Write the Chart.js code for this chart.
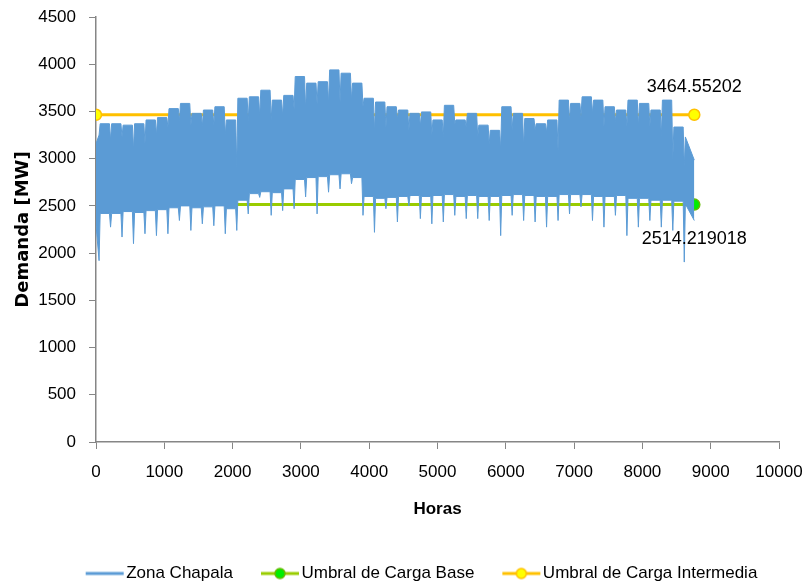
<!DOCTYPE html>
<html>
<head>
<meta charset="utf-8">
<script src="https://cdn.jsdelivr.net/npm/chart.js@4.4.1/dist/chart.umd.min.js"></script>
<style>
  html, body { margin: 0; padding: 0; background: #fff; }
</style>
</head>
<body>
<canvas id="myChart" width="806" height="584"></canvas>
<script>
// Hora del valle de cada semana (fin de semana)
const horasValle = [45, 213, 381, 549, 717, 885, 1053, 1221, 1389, 1557, 1725, 1893, 2061,
  2229, 2397, 2565, 2733, 2901, 3069, 3237, 3405, 3573, 3741, 3909, 4077, 4245, 4413,
  4581, 4749, 4917, 5085, 5253, 5421, 5589, 5757, 5925, 6093, 6261, 6429, 6597, 6765,
  6933, 7101, 7269, 7437, 7605, 7773, 7941, 8109, 8277, 8445, 8613]

// Envolvente superior: pico entre semana y valle de fin de semana [MW]
const picoSemana = [3370, 3370, 3355, 3370, 3410, 3435, 3530, 3585, 3480, 3515, 3550, 3410, 3640,
  3655, 3725, 3620, 3670, 3870, 3800, 3815, 3940, 3905, 3800, 3640, 3600, 3550, 3515,
  3480, 3495, 3410, 3565, 3410, 3480, 3355, 3300, 3550, 3480, 3425, 3370, 3410, 3620,
  3585, 3655, 3620, 3550, 3515, 3620, 3585, 3515, 3620, 3335, 3230]
const picoFinde = [3250, 3195, 3230, 3090, 3160, 3250, 3335, 3400, 3350, 3340, 3350, 3250, 2900,
  3400, 3450, 3410, 3450, 3520, 3520, 3580, 3585, 3600, 3620, 3550, 3285, 3330, 3420,
  3300, 3340, 3250, 3230, 3370, 3330, 3230, 3150, 3090, 3300, 3120, 3300, 3280, 3090,
  3400, 3440, 3480, 3340, 3390, 3340, 3340, 3340, 3230, 2990, 2910]

// Envolvente inferior: minimo entre semana y minimo de fin de semana [MW]
const minSemana = [2420, 2420, 2440, 2430, 2450, 2460, 2480, 2500, 2480, 2490, 2500, 2470, 2560,
  2630, 2650, 2640, 2680, 2780, 2800, 2810, 2830, 2840, 2800, 2600, 2580, 2590, 2600,
  2610, 2600, 2610, 2620, 2600, 2610, 2600, 2600, 2610, 2620, 2610, 2600, 2600, 2620,
  2620, 2620, 2600, 2600, 2610, 2580, 2580, 2560, 2560, 2550, 2520]
const minFinde = [1920, 2275, 2170, 2100, 2205, 2185, 2205, 2345, 2240, 2310, 2290, 2205, 2240,
  2415, 2590, 2400, 2450, 2470, 2595, 2415, 2645, 2680, 2735, 2400, 2220, 2470, 2330,
  2500, 2365, 2310, 2330, 2400, 2365, 2365, 2345, 2185, 2400, 2345, 2330, 2275, 2345,
  2415, 2490, 2345, 2275, 2400, 2185, 2275, 2345, 2275, 2240, 1905]

// primer y ultimo punto del año
const horasExtremos = [0, 8760]
const supExtremos = [3160, 2985]
const infExtremos = [2300, 2345]

const umbralBase = [2514.219018, 2514.219018]
const umbralIntermedia = [3464.55202, 3464.55202]

const leyenda = ["Zona Chapala", "Umbral de Carga Base", "Umbral de Carga Intermedia"]

const AZUL = "#5B9BD5"
const VERDE = "#99CC00"
const AMARILLO = "#FFC000"
const FUENTE = "'Liberation Sans', Arial, sans-serif"

function envolvente(semana, finde, extremos) {
  let pts = [{ x: horasExtremos[0], y: extremos[0] }]
  horasValle.forEach((h, i) => {
    if (i > 0) pts.push({ x: h - 16, y: semana[i - 1] })
    pts.push({ x: h, y: finde[i] })
    pts.push({ x: h + 16, y: semana[i] })
  })
  pts.push({ x: horasExtremos[1], y: extremos[1] })
  return pts
}

function recta(valores) {
  return horasExtremos.map((h, i) => ({ x: h, y: valores[i] }))
}

// iconos de la leyenda: linea con o sin marcador
function icono(linea, relleno, borde) {
  const c = document.createElement("canvas")
  c.width = 72
  c.height = 14
  const g = c.getContext("2d")
  g.strokeStyle = linea
  g.lineWidth = 3
  g.beginPath()
  g.moveTo(33, 7)
  g.lineTo(71, 7)
  g.stroke()
  if (relleno) {
    g.fillStyle = relleno
    g.strokeStyle = borde
    g.lineWidth = 1.5
    g.beginPath()
    g.arc(52, 7, 5, 0, Math.PI * 2)
    g.fill()
    g.stroke()
  }
  return c
}
const iconos = [icono(AZUL), icono(VERDE, "#00EE00", "#66BB00"), icono(AMARILLO, "#FFFF00", AMARILLO)]

// etiquetas con el valor del umbral al final de cada recta
const etiquetas = {
  id: "etiquetas",
  afterDatasetsDraw(chart) {
    const ctx = chart.ctx
    ctx.save()
    ctx.font = "18px " + FUENTE
    ctx.fillStyle = "#000"
    ctx.textAlign = "center"
    ctx.textBaseline = "middle"
    let pB = chart.getDatasetMeta(2).data[1]
    ctx.fillText(String(umbralBase[1]), pB.x, pB.y + 34)
    let pI = chart.getDatasetMeta(3).data[1]
    ctx.fillText(String(umbralIntermedia[1]), pI.x, pI.y - 28)
    ctx.restore()
  }
}

const data = {
  datasets: [
    {
      label: leyenda[0],
      data: envolvente(picoSemana, picoFinde, supExtremos),
      borderColor: AZUL,
      borderWidth: 1,
      pointRadius: 0,
      fill: false,
      tension: 0
    },
    {
      label: "inferior",
      data: envolvente(minSemana, minFinde, infExtremos),
      borderColor: AZUL,
      backgroundColor: AZUL,
      borderWidth: 1,
      pointRadius: 0,
      fill: "-1",
      tension: 0
    },
    {
      label: leyenda[1],
      data: recta(umbralBase),
      borderColor: VERDE,
      borderWidth: 3,
      pointRadius: 5.5,
      pointBackgroundColor: "#00EE00",
      pointBorderColor: "#66BB00",
      pointBorderWidth: 1.5,
      fill: false
    },
    {
      label: leyenda[2],
      data: recta(umbralIntermedia),
      borderColor: AMARILLO,
      borderWidth: 3,
      pointRadius: 5.5,
      pointBackgroundColor: "#FFFF00",
      pointBorderColor: AMARILLO,
      pointBorderWidth: 1.5,
      fill: false
    }
  ]
}

const config = {
  type: "line",
  data,
  options: {
    responsive: false,
    animation: false,
    devicePixelRatio: 1,
    layout: { padding: { left: 11, right: 0, top: 0, bottom: -8 } },
    plugins: {
      tooltip: { enabled: false },
      legend: {
        position: "bottom",
        labels: {
          usePointStyle: true,
          pointStyleWidth: 58,
          padding: 2,
          color: "#000",
          font: { family: FUENTE, size: 17 },
          generateLabels: () => leyenda.map((txt, i) => ({
            text: txt,
            pointStyle: iconos[i],
            fontColor: "#000",
            hidden: false,
            lineWidth: 0,
            datasetIndex: i === 0 ? 0 : i + 1
          }))
        }
      }
    },
    scales: {
      x: {
        type: "linear",
        min: 0,
        max: 10000,
        afterFit: s => { s.height = 121; s.paddingRight = 27; s.paddingLeft = 0 },
        ticks: { stepSize: 1000, color: "#000", padding: 13, maxRotation: 0,
          callback: v => String(v),
          font: { family: FUENTE, size: 17 } },
        grid: { drawOnChartArea: false, tickLength: 7, color: "#868686" },
        border: { color: "#868686", width: 1.5 },
        title: { display: true, text: "Horas", color: "#000",
          font: { family: FUENTE, size: 17, weight: "bold" }, padding: { top: 5, bottom: 43 } }
      },
      y: {
        min: 0,
        max: 4500,
        afterFit: s => { s.width = 85; s.paddingTop = 17; s.paddingBottom = 0 },
        ticks: { stepSize: 500, color: "#000", padding: 13,
          callback: v => String(v),
          font: { family: FUENTE, size: 17 } },
        grid: { drawOnChartArea: false, tickLength: 7, color: "#868686" },
        border: { color: "#868686", width: 1.5 },
        title: { display: true, text: "Demanda [MW]", color: "#000",
          font: { family: "'DejaVu Sans'", size: 18, weight: "bold" }, padding: { top: 2, bottom: 6 } }
      }
    }
  },
  plugins: [etiquetas]
}

const myChart = new Chart(document.getElementById("myChart"), config)
</script>
</body>
</html>
